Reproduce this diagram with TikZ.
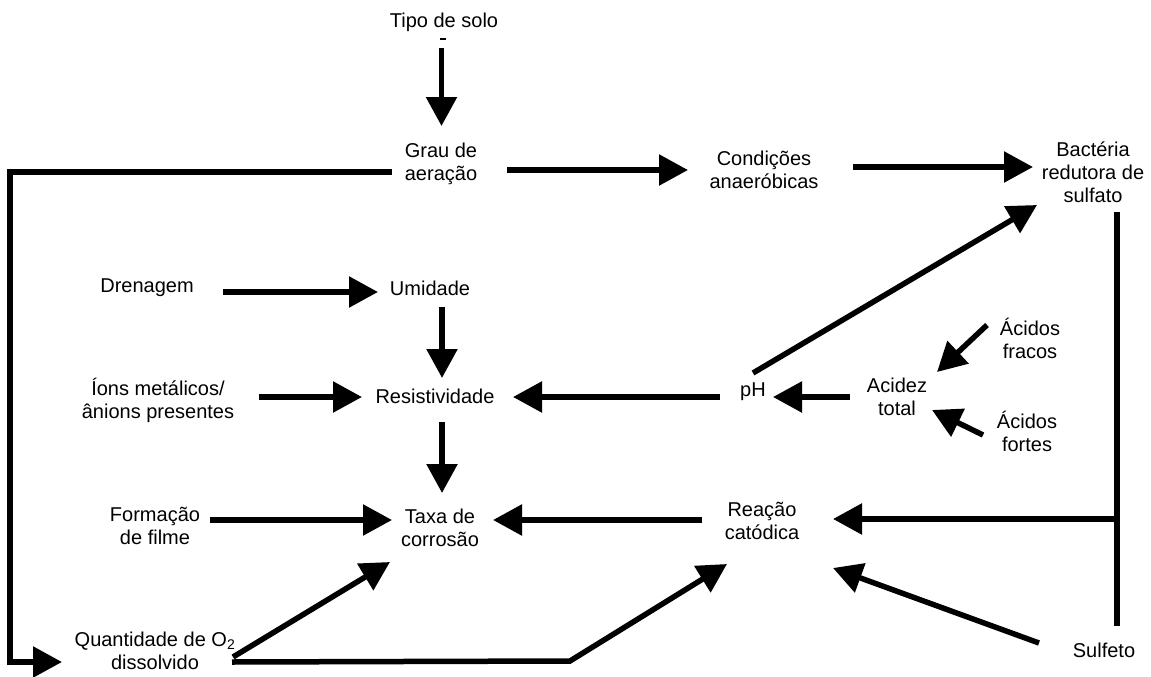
\documentclass[tikz,border=0pt]{standalone}
\usepackage{fontspec}
\setmainfont{Liberation Sans}
\usetikzlibrary{arrows.meta,calc}
\begin{document}
\begin{tikzpicture}[x=1pt,y=-1pt,
  lab/.style={align=center,inner sep=0pt,font=\fontsize{20}{23}\selectfont},
  arr/.style={line width=5.5pt,-{Triangle[length=29pt,width=30pt]}},
  ln/.style={line width=5.5pt}]
\useasboundingbox (0,0) rectangle (1151,677);
% nodes
\node[lab] (tipo) at (444,22) {Tipo de solo};
\node[lab] (grau) at (441,164) {Grau de\\aeração};
\node[lab] (cond) at (764,170) {Condições\\anaeróbicas};
\node[lab] (bact) at (1093,172) {Bactéria\\redutora de\\sulfato};
\node[lab] (dren) at (147,288) {Drenagem};
\node[lab] (umid) at (430,288) {Umidade};
\node[lab] (ions) at (158,400) {Íons metálicos/\\ânions presentes};
\node[lab] (resis) at (435,396) {Resistividade};
\node[lab] (ph) at (753,392) {pH};
\node[lab] (acid) at (897,397) {Acidez\\total};
\node[lab] (fracos) at (1030,338) {Ácidos\\fracos};
\node[lab] (fortes) at (1027,431) {Ácidos\\fortes};
\node[lab] (form) at (155,526) {Formação\\de filme};
\node[lab] (taxa) at (440,528) {Taxa de\\corrosão};
\node[lab] (reac) at (762,521) {Reação\\catódica};
\node[lab] (o2) at (155,651) {Quantidade de O\textsubscript{2}\\dissolvido};
\node[lab] (sulf) at (1104,650) {Sulfeto};
% helper coordinates
\coordinate (lcorner) at (10,400);
\coordinate (br) at ($(bact.center)+(24,347)$);
\coordinate (o2mid) at ($(o2.center)+(415,10)$);
% small mark under title
\draw[line width=1.5pt] ($(tipo.center)+(-4,17)$) -- ++(6,0);
% connectors
\draw[arr] ($(tipo.center)+(-2.5,26)$) -- ($(grau.center)+(0.5,-38)$);
\draw[arr] ($(grau.center)+(-49,8)$) -| (lcorner) |- ($(o2.center)+(-93,11)$);
\draw[arr] ($(grau.center)+(66,6)$) -- ($(cond.center)+(-76,0)$);
\draw[arr] ($(cond.center)+(89,-3)$) -- ($(bact.center)+(-60,-5)$);
\draw[ln] ($(bact.center)+(24,40)$) -- ($(sulf.center)+(13,-24)$);
\draw[arr] (br) -- ($(reac.center)+(71,-2)$);
\draw[arr] ($(dren.center)+(76,4)$) -- ($(umid.center)+(-52,4)$);
\draw[arr] ($(umid.center)+(12,19)$) -- ($(resis.center)+(7,-18)$);
\draw[arr] ($(ions.center)+(101,-3)$) -- ($(resis.center)+(-73,1)$);
\draw[arr] ($(resis.center)+(7,26)$) -- ($(taxa.center)+(2,-35)$);
\draw[arr] ($(ph.center)+(-33,5)$) -- ($(resis.center)+(78,1)$);
\draw[arr] ($(acid.center)+(-47,0)$) -- ($(ph.center)+(20,5)$);
\draw[arr] ($(ph.center)+(0,-19)$) -- ($(bact.center)+(-56,33)$);
\draw[arr] ($(fracos.center)+(-43,-13)$) -- ($(acid.center)+(40,-25)$);
\draw[arr] ($(fortes.center)+(-44,4)$) -- ($(acid.center)+(35,13)$);
\draw[arr] ($(form.center)+(55,-6)$) -- ($(taxa.center)+(-48,-8)$);
\draw[arr] ($(reac.center)+(-60,-1)$) -- ($(taxa.center)+(53,-8)$);
\draw[arr] ($(o2.center)+(78,6)$) -- ($(taxa.center)+(-50,34)$);
\draw[arr] ($(o2.center)+(77,11)$) -- (o2mid) -- ($(reac.center)+(-35,43)$);
\draw[arr] ($(sulf.center)+(-65,-7)$) -- ($(reac.center)+(71,47)$);
\end{tikzpicture}
\end{document}
